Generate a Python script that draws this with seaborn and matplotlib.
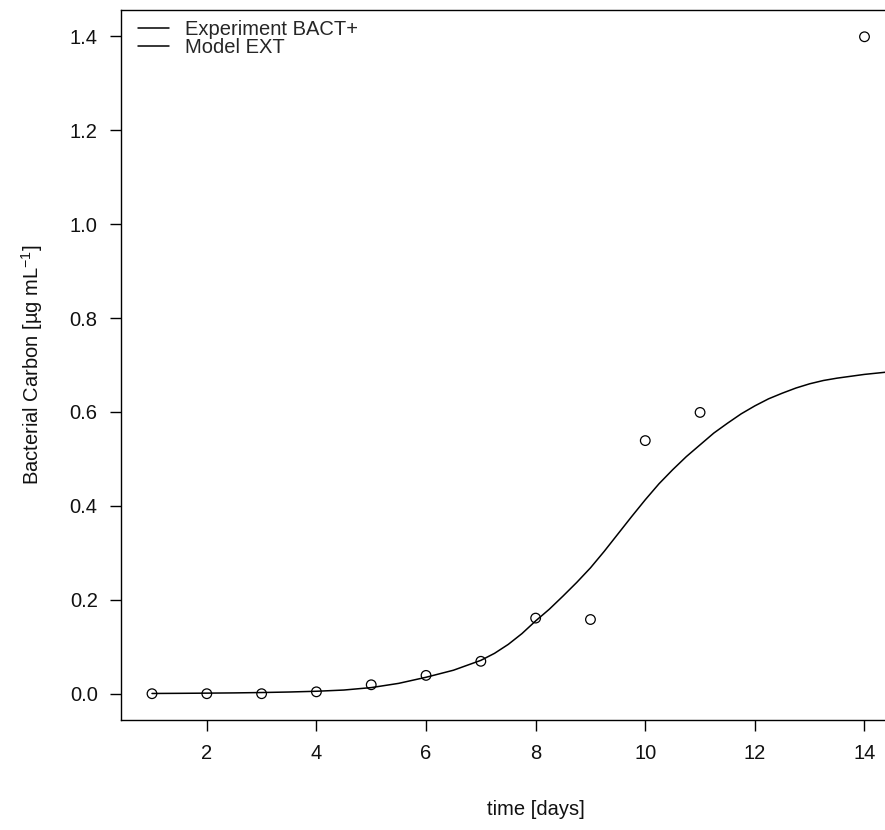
import matplotlib
matplotlib.use("Agg")
import matplotlib.pyplot as plt
from matplotlib.lines import Line2D
import numpy as np
import pandas as pd
import seaborn as sns

# Measured bacterial carbon (experiment BACT+)
obs_days = [1, 2, 3, 4, 5, 6, 7, 8, 9, 10, 11, 14]
obs_carbon = [0.0, 0.0, 0.0, 0.004, 0.019, 0.039, 0.069, 0.161, 0.158, 0.539, 0.599, 1.399]

# Model EXT trajectory
model_days = [1.0, 1.5, 2.0, 2.5, 3.0, 3.5, 4.0, 4.5, 5.0, 5.5, 6.0, 6.5,
              7.0, 7.25, 7.5, 7.75, 8.0, 8.25, 8.5, 8.75, 9.0, 9.25, 9.5, 9.75,
              10.0, 10.25, 10.5, 10.75, 11.0, 11.25, 11.5, 11.75, 12.0, 12.25,
              12.5, 12.75, 13.0, 13.25, 13.5, 13.75, 14.0, 14.5, 15.0]
model_carbon = [0.0005, 0.0008, 0.0012, 0.0017, 0.0025, 0.0036, 0.0052, 0.0078, 0.013,
                0.022, 0.035, 0.050,
                0.071, 0.086, 0.105, 0.128, 0.155, 0.180, 0.208, 0.237, 0.268, 0.303,
                0.340, 0.377, 0.413, 0.447, 0.477, 0.505, 0.530, 0.555, 0.576, 0.596,
                0.613, 0.628, 0.640, 0.651, 0.660, 0.667, 0.672, 0.676, 0.680, 0.686,
                0.689]

legend_labels = ["Experiment BACT+", "Model EXT"]
x_ticks = [2, 4, 6, 8, 10, 12, 14]
y_ticks = [0.0, 0.2, 0.4, 0.6, 0.8, 1.0, 1.2, 1.4]

sns.set_style("ticks")
plt.rcParams["font.family"] = ["Liberation Sans", "DejaVu Sans"]
plt.rcParams["mathtext.fontset"] = "custom"
plt.rcParams["mathtext.rm"] = "Liberation Sans"
plt.rcParams["mathtext.it"] = "Liberation Sans"

obs = pd.DataFrame({"day": obs_days, "carbon": obs_carbon})
model = pd.DataFrame({"day": model_days, "carbon": model_carbon})

W, H = 885, 830
fig = plt.figure(figsize=(W / 100, H / 100), dpi=100)
left, right, top, bottom = 121.3, 950.0, 10.0, 720.0
ax = fig.add_axes([left / W, 1 - bottom / H, (right - left) / W, (bottom - top) / H])

sns.lineplot(data=model, x="day", y="carbon", ax=ax, color="black", linewidth=1.1,
             estimator=None, sort=False)
sns.scatterplot(data=obs, x="day", y="carbon", ax=ax, marker="o", s=48,
                facecolors="none", edgecolor="black", linewidth=0.9, zorder=3)

ax.set_xlim(0.44, 15.56)
ax.set_ylim(-0.056, 1.456)
ax.set_xticks(x_ticks)
ax.set_xticklabels([str(t) for t in x_ticks])
ax.set_yticks(y_ticks)
ax.set_yticklabels([f"{t:.1f}" for t in y_ticks])

for side in ["left", "right", "top", "bottom"]:
    ax.spines[side].set_visible(True)
    ax.spines[side].set_color("black")
    ax.spines[side].set_linewidth(1.0)

ax.tick_params(axis="both", direction="out", length=8, width=1.0, color="black",
               labelsize=14.5, labelcolor="#111111")
ax.tick_params(axis="x", pad=9)
ax.tick_params(axis="y", pad=9)

ax.set_xlabel("time [days]", fontsize=14.5, labelpad=27, color="#111111")
ax.set_ylabel("Bacterial Carbon [µg mL$^{-1}$]", fontsize=14.5, labelpad=18,
              color="#111111")

handles = [Line2D([0], [0], color="black", linewidth=1.1),
           Line2D([0], [0], color="black", linewidth=1.1)]
ax.legend(handles, legend_labels, loc="upper left",
          bbox_to_anchor=((138 - left) / (right - left), 1 - (20 - top) / (bottom - top)),
          frameon=False, fontsize=14.5, handlelength=1.55, handletextpad=0.8,
          labelspacing=-0.05, borderaxespad=0.0, borderpad=0.0)

fig.savefig("out.png", dpi=100)
